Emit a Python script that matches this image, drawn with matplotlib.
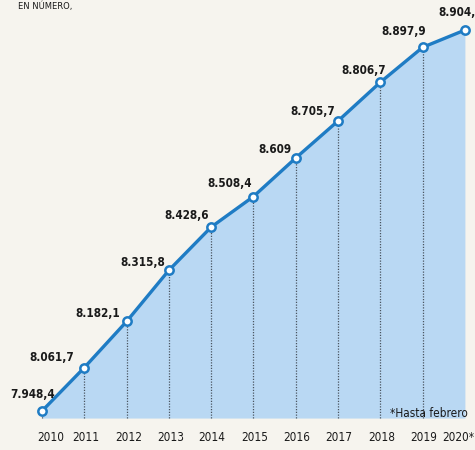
# Line / area chart: yearly values 2010-2020 (newspaper style)
import matplotlib
matplotlib.use("Agg")
import matplotlib.pyplot as plt
from matplotlib import font_manager

# data
years = [2010, 2011, 2012, 2013, 2014, 2015, 2016, 2017, 2018, 2019, 2020]
values = [7948.4, 8061.7, 8182.1, 8315.8, 8428.6, 8508.4, 8609.0,
          8705.7, 8806.7, 8897.9, 8943.0]
value_labels = ["7.948,4", "8.061,7", "8.182,1", "8.315,8", "8.428,6", "8.508,4",
                "8.609", "8.705,7", "8.806,7", "8.897,9", "8.904,"]
year_labels = ["2010", "2011", "2012", "2013", "2014", "2015",
               "2016", "2017", "2018", "2019", "2020*"]

# styles
BG = "#f6f4ee"
FILL = "#b9d8f3"
LINE = "#1f7cc4"
TEXT = "#1a1a1a"
BASE = 7930.0

# label offsets in pixels (dx, dy) relative to each point
label_offsets = [(-9, 17), (-33, 10), (-29, 8), (-26, 8), (-25, 12), (-24, 13),
                 (-21, 8), (-25, 9), (-17, 12), (-19, 16), (-8, 18)]
year_dx = [9, 2, 2, 2, 1, 1, 1, 1, 1, 1, -7]

# look for a narrow font, the original uses a condensed type
narrow_reg = None
narrow_bold = None
for f in font_manager.fontManager.ttflist:
    narrowish = ("Narrow" in f.name or "Condensed" in f.name
                 or f.stretch in ("condensed", "semi-condensed", 500 - 125, 300))
    if not narrowish or f.style != "normal":
        continue
    w = f.weight if isinstance(f.weight, int) else (700 if f.weight == "bold" else 400)
    if w >= 600 and narrow_bold is None:
        narrow_bold = f.fname
    elif w < 600 and narrow_reg is None:
        narrow_reg = f.fname

if narrow_reg:
    fp_reg = font_manager.FontProperties(fname=narrow_reg, size=8.5)
else:
    fp_reg = font_manager.FontProperties(family="DejaVu Sans", size=7.5)
if narrow_bold:
    fp_bold = font_manager.FontProperties(fname=narrow_bold, size=8.4)
else:
    fp_bold = font_manager.FontProperties(family="DejaVu Sans", weight="bold", size=7.5)

fig = plt.figure(figsize=(4.75, 4.5), dpi=100, facecolor=BG)
ax = fig.add_axes([0, 0, 1, 1])
ax.set_facecolor(BG)
ax.set_xlim(2009.007, 2020.239)
ax.set_ylim(7846.6, 9021.5)
ax.axis("off")

ax.fill_between(years, values, BASE, color=FILL, lw=0, zorder=1)
ax.vlines(years[:-1], BASE, values[:-1], colors="#4a5560", linestyles=(0, (1, 1.2)),
          lw=0.9, zorder=2)
ax.plot(years, values, color=LINE, lw=2.4, marker="o", ms=6,
        mfc="white", mec=LINE, mew=1.8, zorder=3)

for x, y, lab, (dx, dy) in zip(years, values, value_labels, label_offsets):
    ax.annotate(lab, (x, y), xytext=(dx, dy), textcoords="offset pixels",
                ha="center", va="center", fontproperties=fp_bold,
                color=TEXT, zorder=4)

for x, lab, dx in zip(years, year_labels, year_dx):
    ax.annotate(lab, (x, BASE), xytext=(dx, -19), textcoords="offset pixels",
                ha="center", va="center", fontproperties=fp_reg, color=TEXT)

ax.text(2020.07, 7943, "*Hasta febrero", ha="right", va="center",
        fontproperties=fp_reg, color=TEXT, zorder=4)

fig.text(18 / 475, 1 - 2 / 450, "EN NÚMERO,", ha="left", va="top",
         fontsize=6, color=TEXT)

fig.savefig("out.png", dpi=100, facecolor=BG)
